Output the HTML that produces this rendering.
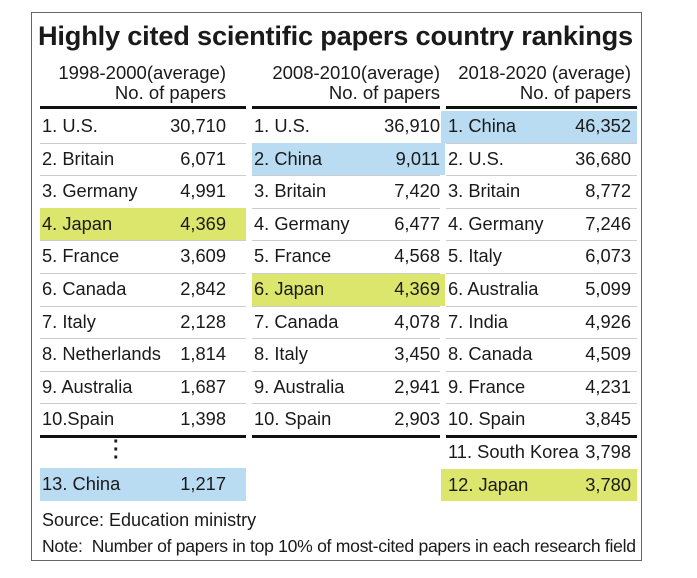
<!DOCTYPE html>
<html><head><meta charset="utf-8"><style>
body{margin:0;width:697px;height:578px;background:#fff;position:relative;overflow:hidden;font-family:"Liberation Sans",Arial,sans-serif;color:#1a1a1a}
.a{position:absolute;white-space:nowrap}
#frame{position:absolute;left:31px;top:12px;width:611px;height:549px;border:1.5px solid #666;box-sizing:border-box}
.title{left:38px;top:20px;font-size:27.2px;font-weight:bold;letter-spacing:-0.2px}
.hd{font-size:18.5px;text-align:right;line-height:20px}
.cell{font-size:18.3px;line-height:32px;height:32px}
.thick{position:absolute;height:3px;background:#111}
.thin{position:absolute;height:1px;background:#ccc}
.hl-b{position:absolute;background:#b9dcf2}
.hl-y{position:absolute;background:#dce56c}
</style></head><body>
<div id="frame"></div>
<div class="a title">Highly cited scientific papers country rankings</div>
<div class="a hd" style="left:30px;width:196px;top:63px">1998-2000(average)</div>
<div class="a hd" style="left:30px;width:196px;top:83px">No. of papers</div>
<div class="a hd" style="left:242px;width:198px;top:63px">2008-2010(average)</div>
<div class="a hd" style="left:242px;width:198px;top:83px">No. of papers</div>
<div class="a hd" style="left:436px;width:195px;top:63px">2018-2020 (average)</div>
<div class="a hd" style="left:436px;width:195px;top:83px">No. of papers</div>
<div id="tbl"></div>
<div class="a" style="left:42px;top:510px;font-size:18px">Source: Education ministry</div>
<div class="a" style="left:42px;top:536px;font-size:17.6px;letter-spacing:-0.3px">Note: &nbsp;Number of papers in top 10% of most-cited papers in each research field</div>
<script>
const names1=["1. U.S.","2. Britain","3. Germany","4. Japan","5. France","6. Canada","7. Italy","8. Netherlands","9. Australia","10.Spain"];
const vals1=["30,710","6,071","4,991","4,369","3,609","2,842","2,128","1,814","1,687","1,398"];
const names2=["1. U.S.","2. China","3. Britain","4. Germany","5. France","6. Japan","7. Canada","8. Italy","9. Australia","10. Spain"];
const vals2=["36,910","9,011","7,420","6,477","4,568","4,369","4,078","3,450","2,941","2,903"];
const names3=["1. China","2. U.S.","3. Britain","4. Germany","5. Italy","6. Australia","7. India","8. Canada","9. France","10. Spain","11. South Korea","12. Japan"];
const vals3=["46,352","36,680","8,772","7,246","6,073","5,099","4,926","4,509","4,231","3,845","3,798","3,780"];
const cols=[{x:40,w:206,numR:226,n:names1,v:vals1,hl:{3:'y'}},{x:252,w:190,numR:440,n:names2,v:vals2,hl:{1:'b',5:'y'}},{x:446,w:191,numR:631,n:names3,v:vals3,hl:{0:'b',11:'y'}}];
const T=document.getElementById('tbl');
const top0=110,pitch=32.6;
function rowY(i){return i<10?top0+i*pitch:top0+10*pitch+(i-10)*pitch;}
cols.forEach((c,ci)=>{
  let d=document.createElement('div');d.className='thick';d.style.left=c.x+'px';d.style.width=(ci==1?188:c.w)+'px';d.style.top='106px';
  
  
  T.appendChild(d);
  c.n.forEach((nm,i)=>{
    const y=rowY(i);
    if(c.hl[i]){let h=document.createElement('div');h.className=c.hl[i]=='b'?'hl-b':'hl-y';
      h.style.left=(ci==2?441:c.x)+'px';h.style.width=(ci==2?196:(ci==1?193:c.w))+'px';h.style.top=(y+0.5)+'px';h.style.height='32px';
      
      
      T.appendChild(h);}
    let a=document.createElement('div');a.className='a cell';a.style.left=(c.x+2)+'px';a.style.top=y+'px';a.textContent=nm;
    
    
    T.appendChild(a);
    let b=document.createElement('div');b.className='a cell';b.style.left=(c.numR-80)+'px';b.style.width='80px';b.style.textAlign='right';b.style.top=y+'px';b.textContent=c.v[i];
    
    
    T.appendChild(b);
    if(i<9){let l=document.createElement('div');l.className='thin';l.style.left=c.x+'px';l.style.width=(ci==1?188:c.w)+'px';l.style.top=(y+pitch)+'px';
      
      
      T.appendChild(l);}
    if(i==9){let l=document.createElement('div');l.className='thick';l.style.left=c.x+'px';l.style.width=(ci==1?188:c.w)+'px';l.style.top=(y+pitch-1)+'px';
      
      
      T.appendChild(l);}
  });
});
let e=document.createElement('div');e.className='a';e.style.left='113px';e.style.top='438px';e.style.fontSize='20px';e.style.fontWeight='bold';e.style.lineHeight='8px';e.innerHTML='·<br>·<br>·';


T.appendChild(e);
let h=document.createElement('div');h.className='hl-b';h.style.left='40px';h.style.width='206px';h.style.top='468px';h.style.height='33px';


T.appendChild(h);
let a=document.createElement('div');a.className='a cell';a.style.left='42px';a.style.top='468px';a.textContent='13. China';


T.appendChild(a);
let b=document.createElement('div');b.className='a cell';b.style.left='146px';b.style.width='80px';b.style.textAlign='right';b.style.top='468px';b.textContent='1,217';


T.appendChild(b);
</script>
</body></html>
